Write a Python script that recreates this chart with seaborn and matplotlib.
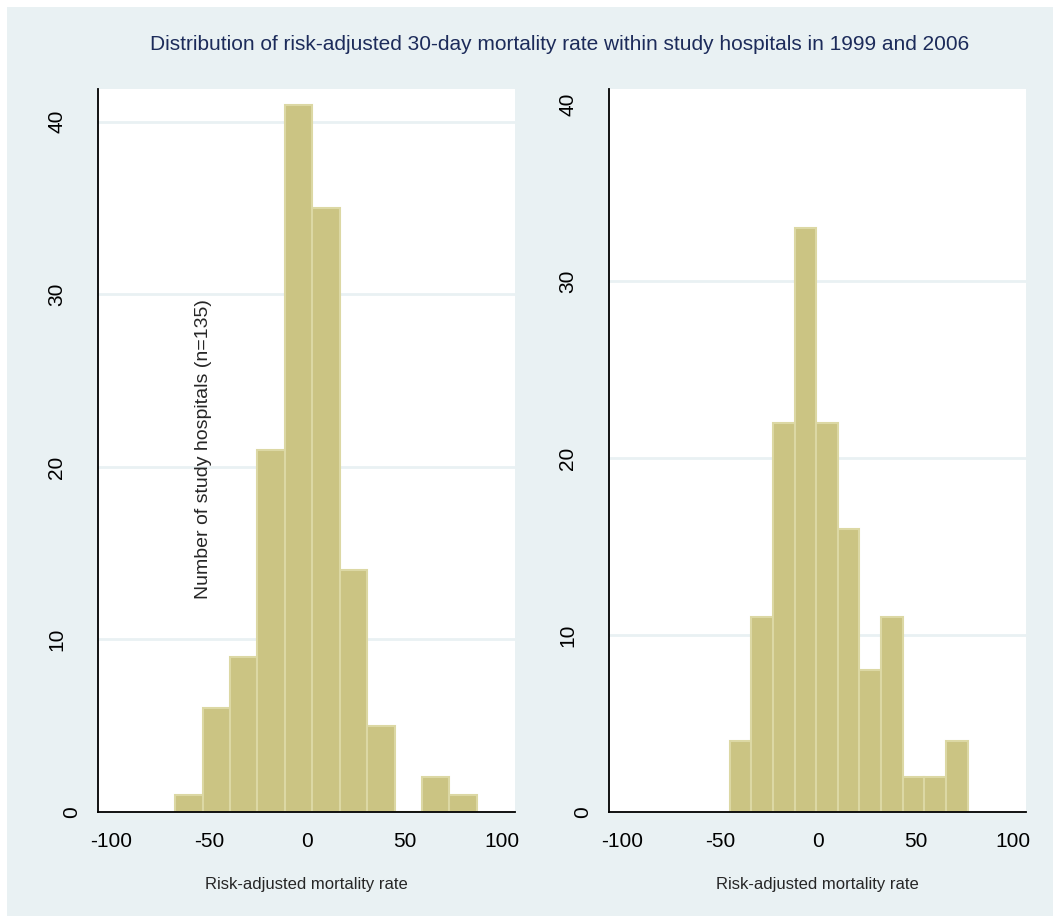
import numpy as np
import pandas as pd
import matplotlib
matplotlib.use("Agg")
import matplotlib.pyplot as plt
import seaborn as sns
from matplotlib.patches import Rectangle
from matplotlib.transforms import ScaledTranslation

# histogram counts (bins of equal width)
counts_1999 = [1, 6, 9, 21, 41, 35, 14, 5, 0, 2, 1]
start_1999 = -67.3
width_1999 = 14.03

counts_2006 = [4, 11, 22, 33, 22, 16, 8, 11, 2, 2, 4]
start_2006 = -45.0
width_2006 = 11.06

xticks = [-100, -50, 0, 50, 100]
yticks = [0, 10, 20, 30, 40]

title = "Distribution of risk-adjusted 30-day mortality rate within study hospitals in 1999 and 2006"
xlab = "Risk-adjusted mortality rate"
ylab = "Number of study hospitals (n=135)"

bg = "#e9f1f3"
bar_fill = "#cbc483"
bar_edge = "#dcd8a4"
fam = ["Liberation Sans", "DejaVu Sans"]

sns.set_style("white")
plt.rcParams["font.family"] = fam

fig = plt.figure(figsize=(10.53, 9.16), dpi=100, facecolor="white")
fig.patches.append(Rectangle((7 / 1053, 0), 1, 1 - 7 / 916, transform=fig.transFigure,
                             facecolor=bg, edgecolor="none", zorder=-10))

ax1 = fig.add_axes([98 / 1053, 1 - 812 / 916, 417 / 1053, 723 / 916])
ax2 = fig.add_axes([609 / 1053, 1 - 812 / 916, 417 / 1053, 723 / 916])


def draw(ax, counts, start, width, ymax, grid_vals):
    n = len(counts)
    edges = [start + width * i for i in range(n + 1)]
    centers = [(edges[i] + edges[i + 1]) / 2 for i in range(n)]
    df = pd.DataFrame({"x": centers, "w": counts})
    sns.histplot(data=df, x="x", weights="w", bins=edges, ax=ax,
                 color=bar_fill, edgecolor=bar_edge, linewidth=1.5, alpha=1, zorder=2)
    for g in grid_vals:
        ax.axhline(g, color=bg, lw=2, zorder=1)
    ax.set_facecolor("white")
    ax.set_xlim(-106.7, 106.5)
    ax.set_ylim(0, ymax)
    ax.set_xticks(xticks)
    ax.set_yticks(yticks)
    ax.set_xticklabels([str(t) for t in xticks], fontsize=15)
    ax.set_yticklabels([str(t) for t in yticks], fontsize=15, rotation=90, va="center")
    ax.tick_params(axis="y", direction="out", length=7, width=1.3, pad=16, colors="black")
    ax.tick_params(axis="x", direction="out", length=9.5, width=1.3, pad=5, colors="black")
    for s in ["top", "right"]:
        ax.spines[s].set_visible(False)
    for s in ["left", "bottom"]:
        ax.spines[s].set_color("black")
        ax.spines[s].set_linewidth(1.3)
    ax.set_ylabel("")
    ax.set_xlabel(xlab, fontsize=12, va="top")
    ax.xaxis.set_label_coords(0.5, -0.09)
    # the "0" label sits a little further right in the original
    lbl = ax.get_yticklabels()[0]
    lbl.set_transform(lbl.get_transform() + ScaledTranslation(0.15, 0, fig.dpi_scale_trans))


draw(ax1, counts_1999, start_1999, width_1999, 41.9, [10, 20, 30, 40])
draw(ax2, counts_2006, start_2006, width_2006, 40.85, [10, 20, 30])

ax1.text(0.252, 0.502, ylab, transform=ax1.transAxes, rotation=90,
         ha="center", va="center", fontsize=14)

fig.text(560 / 1053, 1 - 44 / 916, title, ha="center", va="center",
         fontsize=15, color="#1c2b5a")

fig.savefig("out.png", dpi=100, facecolor=fig.get_facecolor())
